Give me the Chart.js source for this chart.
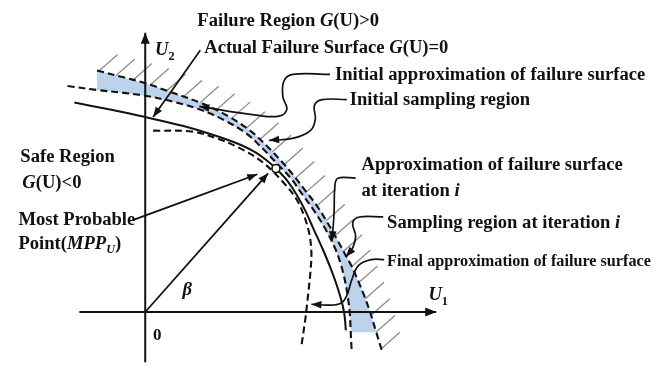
<!DOCTYPE html>
<html>
<head>
<meta charset="utf-8">
<script src="https://cdn.jsdelivr.net/npm/chart.js@4.4.1/dist/chart.umd.min.js"></script>
<style>
  html, body { margin: 0; padding: 0; background: #ffffff; }
  #wrap { position: relative; width: 669px; height: 368px; }
</style>
</head>
<body>
<div id="wrap"><canvas id="diagram"></canvas></div>
<script>
// Standard normal space (U1, U2). Each curve is a list of [U1, U2] points.
const actualSurface = [
  [-7.2, 21.6], [-3.7, 20.9], [0, 20.1], [3.8, 19.2], [7.1, 18.2], [9.8, 17.2],
  [11.3, 16.4], [12.4, 15.6], [13.3, 14.8], [14.4, 13.6], [15.4, 12.1], [16.3, 10.4],
  [17.1, 8.6], [18.0, 6.6], [18.9, 4.4], [19.6, 2.4], [20.1, 0.6], [20.3, -0.6], [20.4, -1.9]
];
const finalApprox = [
  [0.8, 18.7], [4.8, 18.6], [7.3, 17.9], [9.8, 16.8], [12.0, 15.4], [14.1, 13.3],
  [15.4, 11.6], [16.2, 9.8], [16.7, 8.0], [16.9, 6.1], [16.8, 4.1], [16.6, 2.1],
  [16.3, -0.6], [15.9, -3.4]
];
const innerBound = [
  [-7.9, 23.3], [-4.9, 22.9], [-2.2, 22.6], [0, 22.3], [2.8, 21.7], [5.5, 20.9],
  [8.0, 19.8], [10.3, 18.4], [12.0, 16.8], [13.4, 15.3], [14.8, 13.8], [16.0, 12.1],
  [17.2, 10.4], [18.3, 8.6], [19.3, 6.6], [19.9, 4.9], [20.3, 3.3], [20.6, 1.6],
  [20.8, -0.1], [20.9, -2.1], [21.0, -4.1]
];
const outerBound = [
  [-4.9, 24.9], [-2.2, 24.2], [0, 23.6], [2.8, 22.6], [5.8, 21.5], [8.6, 20.1],
  [10.8, 18.6], [12.4, 17.1], [13.8, 15.6], [15.0, 14.2], [16.3, 12.5], [17.5, 10.9],
  [18.6, 9.1], [19.5, 7.5], [20.3, 6.0], [21.0, 4.7], [21.7, 3.1], [22.3, 1.6],
  [22.9, -0.1], [23.5, -2.1], [24.1, -4.1]
];
const mppPoint = [13.3, 14.8];
const originPoint = [0, 0];
const betaVector = [originPoint, [12.5, 14.3]];
const u1Axis = [[-6.7, 0], [29.6, 0]];
const u2Axis = [[0, -5.2], [0, 28.8]];

// Callout leaders, each ending at the feature it names
const leaderActual = [[5.6, 27.0], [0.8, 20.1]];
const leaderInitialApprox = [[18.8, 24.5], [15.0, 24.5], [14.1, 23.8], [14.0, 22.2], [14.4, 20.9], [13.6, 20.2], [11.3, 20.3], [5.5, 21.2]];
const leaderInitialSampling = [[20.5, 21.9], [18.0, 21.9], [17.2, 21.3], [17.3, 19.9], [16.8, 18.7], [15.0, 17.9], [12.6, 17.7]];
const leaderIterApprox = [[21.4, 13.8], [19.6, 13.8], [19.3, 13.1], [19.2, 10.1], [19.0, 7.3]];
const leaderIterSampling = [[24.2, 9.8], [21.8, 9.8], [21.1, 9.2], [21.4, 7.8], [21.0, 6.4], [20.4, 5.7]];
const leaderFinal = [[24.3, 5.4], [23.0, 5.4], [21.7, 4.8], [21.0, 3.3], [20.5, 1.7], [19.9, 0.9], [18.6, 0.7], [16.9, 0.8]];
const leaderMpp = [[-1.2, 9.5], [11.4, 14.2]];

// Text annotations: rich runs anchored at [U1, U2] (left end, baseline)
const diagramLabels = [
  { at: [5.3, 29.5], runs: [{ t: 'Failure Region ' }, { t: 'G', it: true }, { t: '(U)>0' }] },
  { at: [6.0, 26.7], runs: [{ t: 'Actual Failure Surface ' }, { t: 'G', it: true }, { t: '(U)=0' }] },
  { at: [19.3, 23.9], runs: [{ t: 'Initial approximation of failure surface' }] },
  { at: [20.8, 21.3], runs: [{ t: 'Initial sampling region' }] },
  { at: [22.0, 14.6], runs: [{ t: 'Approximation of failure surface' }] },
  { at: [22.0, 12.0], runs: [{ t: 'at iteration ' }, { t: 'i', it: true }] },
  { at: [24.6, 8.7], runs: [{ t: 'Sampling region at iteration ' }, { t: 'i', it: true }] },
  { at: [24.6, 4.7], size: 16.2, runs: [{ t: 'Final approximation of failure surface' }] },
  { at: [-12.7, 15.5], runs: [{ t: 'Safe Region' }] },
  { at: [-12.5, 12.8], runs: [{ t: 'G', it: true }, { t: '(U)<0' }] },
  { at: [-12.9, 9.0], runs: [{ t: 'Most Probable' }] },
  { at: [-12.9, 6.5], runs: [{ t: 'Point(' }, { t: 'MPP', it: true }, { t: 'U', it: true, sub: true }, { t: ')' }] },
  { at: [3.8, 1.8], runs: [{ t: 'β', it: true }] },
  { at: [28.8, 1.2], runs: [{ t: 'U', it: true }, { t: '1', sub: true }] },
  { at: [1.0, 26.5], runs: [{ t: 'U', it: true }, { t: '2', sub: true }] },
  { at: [0.8, -2.9], size: 17, runs: [{ t: '0' }] }
];

const INK = '#111111';
const HATCH_STEP = 1.8;           // spacing of failure-side hatching along the outer bound
const HATCH_VEC = [1.9, 1.7];     // hatch stroke direction and length

const pts = arr => arr.map(([x, y]) => ({ x, y }));

// Hatch strokes laid along the outer bound of the sampling band
function hatchStrokes(curve, step, vec) {
  const out = [];
  let carry = 0.2;
  for (let i = 1; i < curve.length; i++) {
    const [x0, y0] = curve[i - 1], [x1, y1] = curve[i];
    const len = Math.hypot(x1 - x0, y1 - y0);
    let s = carry;
    while (s <= len) {
      const t = s / len;
      const bx = x0 + (x1 - x0) * t, by = y0 + (y1 - y0) * t;
      out.push([[bx, by], [bx + vec[0], by + vec[1]]]);
      s += step;
    }
    carry = s - len;
  }
  return out;
}

// Shaded sampling band: outer bound down to the floor, back along the inner bound
const bandShape = outerBound.slice(0, 20).concat(innerBound.slice(1, 20).reverse());

const curve = (data, extra) => Object.assign({
  data: pts(data), showLine: true, borderColor: INK, borderWidth: 2,
  pointRadius: 0, tension: 0.35, fill: false, order: 5
}, extra);

const datasets = [];
datasets.push({
  data: pts(bandShape), showLine: true, borderWidth: 0, borderColor: 'rgba(0,0,0,0)',
  backgroundColor: 'rgb(189,211,236)', fill: 'shape', pointRadius: 0, tension: 0, order: 10
});
hatchStrokes(outerBound, HATCH_STEP, HATCH_VEC).forEach(seg => {
  datasets.push(curve(seg, { borderColor: '#8c8c8c', borderWidth: 1.3, tension: 0, order: 9 }));
});
datasets.push(curve(innerBound, { borderDash: [7, 4], borderWidth: 2.1 }));
datasets.push(curve(outerBound, { borderDash: [7, 4], borderWidth: 2.1 }));
datasets.push(curve(finalApprox, { borderDash: [7, 4], borderWidth: 2.1 }));
datasets.push(curve(actualSurface, { borderWidth: 2 }));
datasets.push(curve(u1Axis, { tension: 0, order: 4, arrowHead: { len: 11, half: 4.5 } }));
datasets.push(curve(u2Axis, { tension: 0, order: 4, arrowHead: { len: 11, half: 4.5 } }));
datasets.push(curve(betaVector, { borderWidth: 1.8, tension: 0, order: 3, arrowHead: { len: 10, half: 4 } }));
[leaderActual, leaderInitialApprox, leaderInitialSampling, leaderIterApprox,
 leaderIterSampling, leaderFinal, leaderMpp].forEach(l => {
  datasets.push(curve(l, { borderWidth: 1.7, tension: 0.4, order: 3, arrowHead: { len: 10, half: 3.8 } }));
});
datasets.push({
  data: pts([mppPoint]), showLine: false, pointRadius: 4, pointBorderWidth: 1.6,
  pointBackgroundColor: '#ffffff', pointBorderColor: INK, order: 0
});

const arrowHeads = {
  id: 'arrowHeads',
  afterDatasetsDraw(chart) {
    const ctx = chart.ctx;
    chart.data.datasets.forEach((ds, i) => {
      if (!ds.arrowHead) return;
      const els = chart.getDatasetMeta(i).data;
      const tip = els[els.length - 1], prev = els[els.length - 2];
      const a = Math.atan2(tip.y - prev.y, tip.x - prev.x);
      const { len, half } = ds.arrowHead;
      const bx = tip.x - len * Math.cos(a), by = tip.y - len * Math.sin(a);
      ctx.save();
      ctx.fillStyle = ds.borderColor;
      ctx.beginPath();
      ctx.moveTo(tip.x, tip.y);
      ctx.lineTo(bx + half * Math.sin(a), by - half * Math.cos(a));
      ctx.lineTo(bx - half * Math.sin(a), by + half * Math.cos(a));
      ctx.closePath();
      ctx.fill();
      ctx.restore();
    });
  }
};

const diagramText = {
  id: 'diagramText',
  afterDraw(chart) {
    const ctx = chart.ctx;
    const xs = chart.scales.x, ys = chart.scales.y;
    ctx.save();
    ctx.fillStyle = INK;
    ctx.textBaseline = 'alphabetic';
    ctx.textAlign = 'left';
    diagramLabels.forEach(lab => {
      let x = xs.getPixelForValue(lab.at[0]);
      const y = ys.getPixelForValue(lab.at[1]);
      const size = lab.size || 18.6;
      lab.runs.forEach(r => {
        const s = r.sub ? size * 0.66 : size;
        ctx.font = (r.it ? 'italic ' : '') + 'bold ' + s + 'px "Liberation Serif", "Times New Roman", serif';
        ctx.fillText(r.t, x, y + (r.sub ? size * 0.24 : 0));
        x += ctx.measureText(r.t).width;
      });
    });
    ctx.restore();
  }
};

new Chart(document.getElementById('diagram'), {
  type: 'scatter',
  data: { datasets },
  options: {
    responsive: true,
    maintainAspectRatio: false,
    devicePixelRatio: 1,
    animation: false,
    events: [],
    layout: { padding: 0 },
    plugins: { legend: { display: false }, tooltip: { enabled: false } },
    scales: {
      x: { type: 'linear', min: -14.2, max: 52.7, display: false },
      y: { type: 'linear', min: -5.2, max: 31.6, display: false }
    }
  },
  plugins: [arrowHeads, diagramText]
});
</script>
</body>
</html>
